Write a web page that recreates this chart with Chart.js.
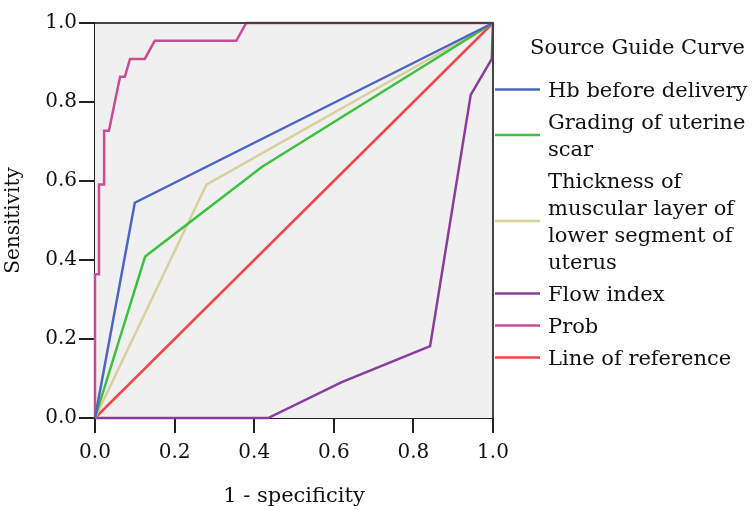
<!DOCTYPE html>
<html>
<head>
<meta charset="utf-8">
<script src="https://cdn.jsdelivr.net/npm/chart.js@4.4.1/dist/chart.umd.min.js"></script>
<style>
  body { margin: 0; background: #fff; }
  #chart-container { width: 754px; height: 510px; }
</style>
</head>
<body>
<div id="chart-container"><canvas id="chart"></canvas></div>
<script>
// ROC curves, x = 1 - specificity, y = sensitivity
const hbX = [0, 0.10, 1];
const hbY = [0, 0.545, 1];
const scarX = [0, 0.126, 0.42, 1];
const scarY = [0, 0.409, 0.636, 1];
const thickX = [0, 0.28, 1];
const thickY = [0, 0.591, 1];
const flowX = [0, 0.435, 0.62, 0.842, 0.944, 0.997, 1];
const flowY = [0, 0, 0.091, 0.182, 0.818, 0.909, 1];
const probX = [0, 0, 0.01, 0.01, 0.023, 0.023, 0.035, 0.063, 0.075, 0.088, 0.125, 0.15, 0.355, 0.38, 1];
const probY = [0, 0.364, 0.364, 0.591, 0.591, 0.727, 0.727, 0.864, 0.864, 0.909, 0.909, 0.955, 0.955, 1, 1];
const refX = [0, 1];
const refY = [0, 1];

const seriesLabels = [
  'Hb before delivery',
  'Grading of uterine\nscar',
  'Thickness of\nmuscular layer of\nlower segment of\nuterus',
  'Flow index',
  'Prob',
  'Line of reference'
];
const seriesColors = ['#4a66c0', '#3cc040', '#d6d09c', '#8a3c9c', '#cc4c94', '#f04848'];
const legendTitle = 'Source Guide Curve';
const tickLabels = ['0.0', '0.2', '0.4', '0.6', '0.8', '1.0'];

const FONT = '"DejaVu Serif", serif';

function pts(xs, ys) {
  return xs.map((x, i) => ({ x: x, y: ys[i] }));
}

const allSeries = [
  pts(hbX, hbY), pts(scarX, scarY), pts(thickX, thickY),
  pts(flowX, flowY), pts(probX, probY), pts(refX, refY)
];

const plotFrame = {
  id: 'plotFrame',
  beforeDatasetsDraw(chart) {
    const { ctx, chartArea: a } = chart;
    ctx.save();
    ctx.fillStyle = '#f0f0f0';
    ctx.fillRect(a.left, a.top, a.right - a.left, a.bottom - a.top);
    ctx.restore();
  },
  afterDatasetsDraw(chart) {
    const { ctx, chartArea: a } = chart;
    ctx.save();
    ctx.strokeStyle = '#444';
    ctx.lineWidth = 2;
    ctx.beginPath();
    ctx.moveTo(a.left, a.top);
    ctx.lineTo(a.right, a.top);
    ctx.lineTo(a.right, a.bottom);
    ctx.stroke();
    ctx.restore();
  }
};

const sideLegend = {
  id: 'sideLegend',
  afterDraw(chart) {
    const ctx = chart.ctx;
    ctx.save();
    ctx.font = '21px ' + FONT;
    ctx.fillStyle = '#111';
    ctx.textBaseline = 'middle';
    ctx.fillText(legendTitle, 530, 49);
    const lineH = 27, gap = 5;
    let top = 76;
    chart.data.datasets.forEach(ds => {
      const lines = ds.label.split('\n');
      const h = lines.length * lineH;
      ctx.strokeStyle = ds.borderColor;
      ctx.lineWidth = 2.5;
      ctx.beginPath();
      ctx.moveTo(495, top + h / 2);
      ctx.lineTo(540, top + h / 2);
      ctx.stroke();
      lines.forEach((ln, i) => {
        ctx.fillText(ln, 548, top + lineH * i + lineH / 2 + 2);
      });
      top += h + gap;
    });
    ctx.restore();
  }
};

const ctx = document.getElementById('chart');
ctx.width = 754;
ctx.height = 510;

new Chart(ctx, {
  type: 'scatter',
  data: {
    datasets: allSeries.map((d, i) => ({
      label: seriesLabels[i],
      data: d,
      showLine: true,
      borderColor: seriesColors[i],
      backgroundColor: seriesColors[i],
      borderWidth: 2.5,
      pointRadius: 0,
      tension: 0,
      clip: 4
    }))
  },
  options: {
    responsive: false,
    animation: false,
    layout: { padding: { top: 23, right: 261, left: 0, bottom: 0 } },
    plugins: {
      legend: { display: false },
      tooltip: { enabled: false }
    },
    scales: {
      x: {
        type: 'linear',
        min: 0, max: 1,
        afterFit(scale) { scale.height = 92; },
        ticks: {
          stepSize: 0.2,
          padding: 8,
          color: '#111',
          font: { family: FONT, size: 20 },
          callback: (v) => tickLabels[Math.round(v * 5)]
        },
        grid: { drawOnChartArea: false, drawTicks: true, tickLength: 15, color: '#222', lineWidth: 2 },
        border: { display: true, color: '#222', width: 2 },
        title: {
          display: true,
          text: '1 - specificity',
          color: '#111',
          font: { family: FONT, size: 21 },
          padding: { top: 0, bottom: 1 }
        }
      },
      y: {
        type: 'linear',
        min: 0, max: 1,
        afterFit(scale) { scale.width = 95; },
        ticks: {
          stepSize: 0.2,
          padding: 2,
          color: '#111',
          font: { family: FONT, size: 20 },
          callback: (v) => tickLabels[Math.round(v * 5)]
        },
        grid: { drawOnChartArea: false, drawTicks: true, tickLength: 16, color: '#222', lineWidth: 2 },
        border: { display: true, color: '#222', width: 2 },
        title: {
          display: true,
          text: 'Sensitivity',
          color: '#111',
          font: { family: FONT, size: 20 },
          padding: { top: 2, bottom: 0 }
        }
      }
    }
  },
  plugins: [plotFrame, sideLegend]
});

document.getElementById('chart-container').style.width = '754px';
document.getElementById('chart-container').style.height = '510px';
</script>
</body>
</html>
